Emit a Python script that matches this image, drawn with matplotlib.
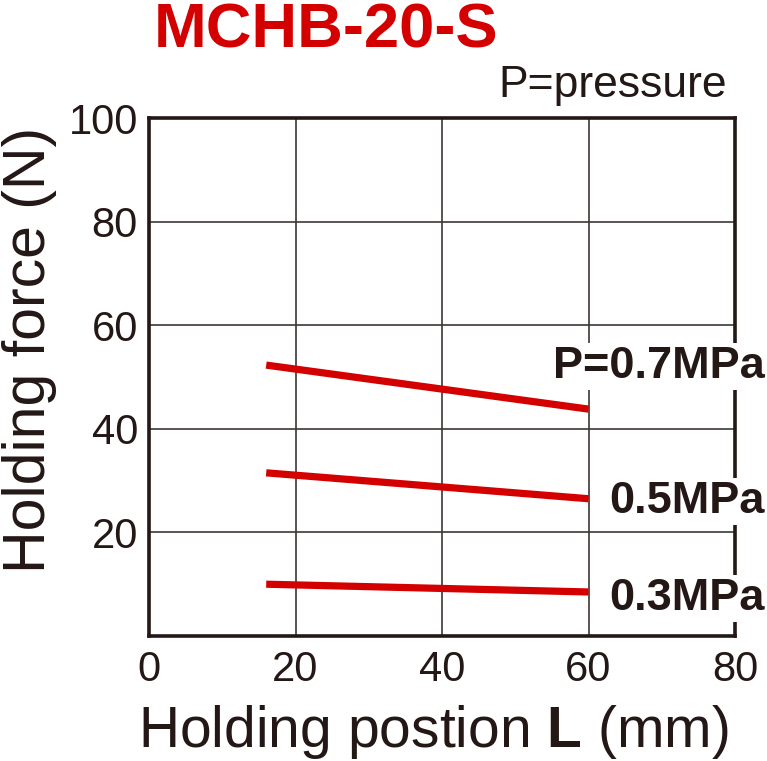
import matplotlib
matplotlib.use('Agg')
import matplotlib.pyplot as plt

plt.rcParams['font.family'] = ['Liberation Sans', 'DejaVu Sans']
plt.rcParams['mathtext.fontset'] = 'custom'
plt.rcParams['mathtext.rm'] = 'Liberation Sans'
plt.rcParams['mathtext.bf'] = 'Liberation Sans:bold'

# holding position L (mm) and holding force (N) per pressure
pos = [16, 60]
force_07 = [52.3, 43.8]
force_05 = [31.5, 26.5]
force_03 = [10.0, 8.5]
series = [force_07, force_05, force_03]
labels = ['P=0.7MPa', '0.5MPa', '0.3MPa']
xticks = [0, 20, 40, 60, 80]
yticks = [20, 40, 60, 80, 100]

ink = '#231815'
red = '#d40000'

fig = plt.figure(figsize=(7.67, 7.61), dpi=100)
ax = fig.add_axes([149/767, 1 - 636/761, (735-149)/767, (636-118)/761])

ax.set_xlim(0, 80)
ax.set_ylim(0, 100)
ax.set_xticks(xticks)
ax.set_yticks(yticks)
ax.grid(True, color='#3d3735', lw=1.2)
ax.set_axisbelow(True)
ax.tick_params(length=0, labelsize=30, colors=ink)
ax.tick_params(axis='x', pad=10)
ax.tick_params(axis='y', pad=8)
for s in ax.spines.values():
    s.set_linewidth(2.6)
    s.set_color(ink)

for ys in series:
    ax.plot(pos, ys, color=red, lw=5.2, solid_capstyle='butt', zorder=3)

# labels next to line ends (white box hides the frame)
label_y = [378, 513, 610]
for lab, yb in zip(labels, label_y):
    fig.text(765/767, 1 - yb/761, lab, ha='right', va='baseline', fontsize=32.5,
             fontweight='bold', color=ink, zorder=5,
             bbox=dict(facecolor='white', edgecolor='none', pad=2))

fig.text(326/767, 1 - 47/761, 'MCHB-20-S', ha='center', va='baseline',
         fontsize=45.5, fontweight='bold', color=red)
fig.text(727/767, 1 - 97/761, 'P=pressure', ha='right', va='baseline',
         fontsize=32, color=ink)
fig.text(433/767, 1 - 747/761, r'Holding postion $\mathbf{L}$ (mm)', ha='center',
         va='baseline', fontsize=41, color=ink)
fig.text(45/767, 1 - 350/761, 'Holding force (N)', ha='center', va='baseline',
         rotation=90, fontsize=42.5, color=ink, rotation_mode='anchor')

fig.savefig('out.png', dpi=100)
